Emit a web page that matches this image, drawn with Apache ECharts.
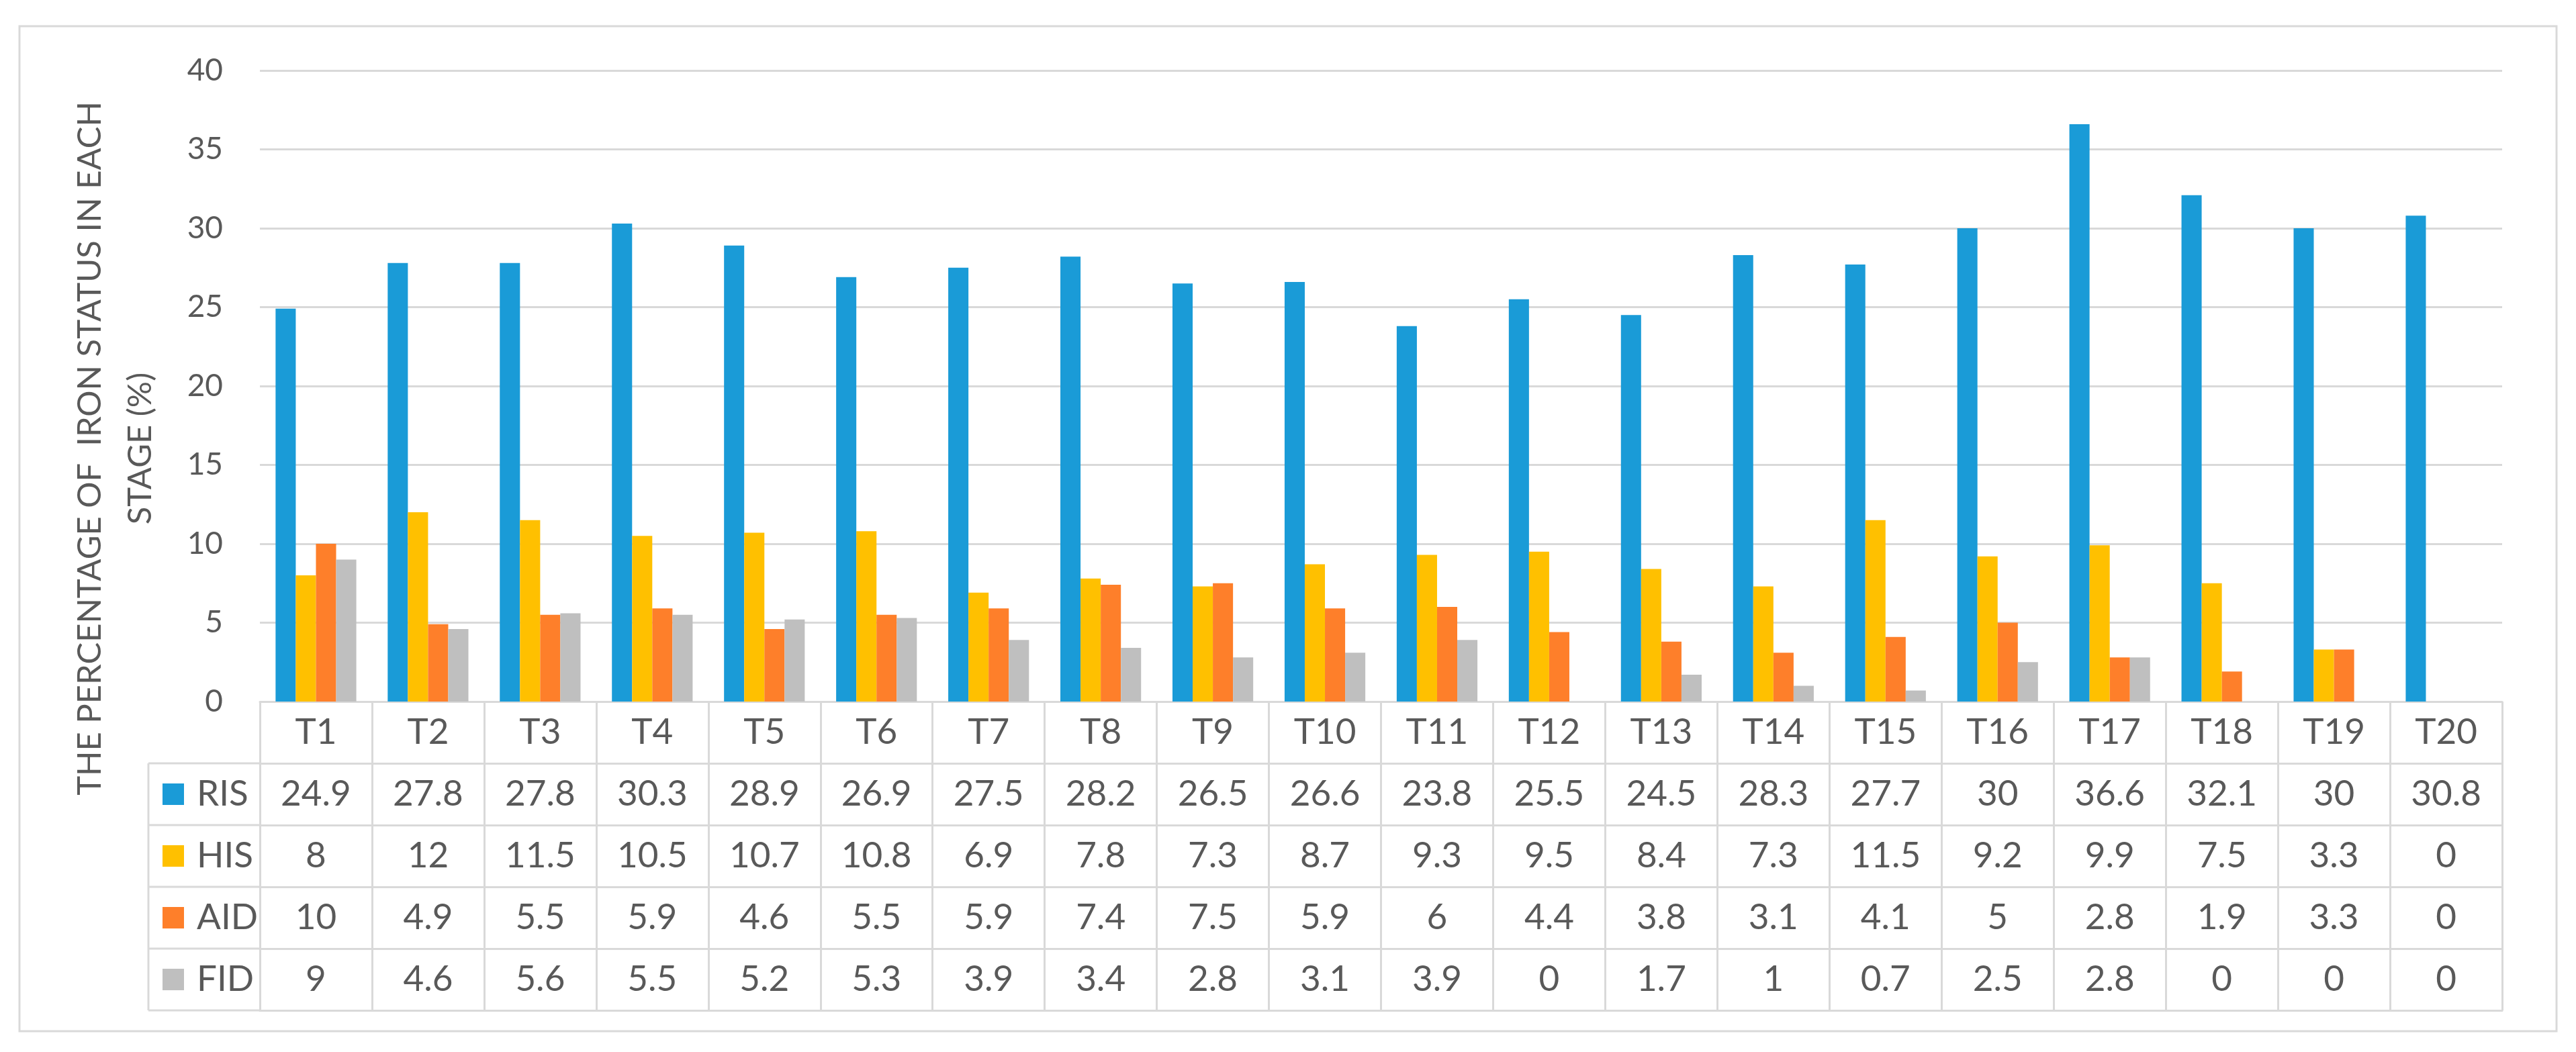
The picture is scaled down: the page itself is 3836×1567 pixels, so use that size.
<!DOCTYPE html>
<html>
<head>
<meta charset="utf-8">
<script src="https://cdn.jsdelivr.net/npm/echarts@6/dist/echarts.min.js"></script>
<style>
  html, body { margin: 0; padding: 0; background: #fff; }
  #main { width: 3836px; height: 1567px; }
</style>
</head>
<body>
<div id="main"></div>
<script>
var categories = ['T1', 'T2', 'T3', 'T4', 'T5', 'T6', 'T7', 'T8', 'T9', 'T10',
    'T11', 'T12', 'T13', 'T14', 'T15', 'T16', 'T17', 'T18', 'T19', 'T20'];
var risValues = [24.9, 27.8, 27.8, 30.3, 28.9, 26.9, 27.5, 28.2, 26.5, 26.6, 23.8, 25.5, 24.5, 28.3, 27.7, 30, 36.6, 32.1, 30, 30.8];
var hisValues = [8, 12, 11.5, 10.5, 10.7, 10.8, 6.9, 7.8, 7.3, 8.7, 9.3, 9.5, 8.4, 7.3, 11.5, 9.2, 9.9, 7.5, 3.3, 0];
var aidValues = [10, 4.9, 5.5, 5.9, 4.6, 5.5, 5.9, 7.4, 7.5, 5.9, 6, 4.4, 3.8, 3.1, 4.1, 5, 2.8, 1.9, 3.3, 0];
var fidValues = [9, 4.6, 5.6, 5.5, 5.2, 5.3, 3.9, 3.4, 2.8, 3.1, 3.9, 0, 1.7, 1, 0.7, 2.5, 2.8, 0, 0, 0];
var seriesNames = ['RIS', 'HIS', 'AID', 'FID'];
var yMin = 0, yMax = 40, yStep = 5;
var yTitleLines = ['THE PERCENTAGE OF  IRON STATUS IN EACH', 'STAGE (%)'];

var colors = ['#1a9bd7', '#ffc000', '#fe7f2a', '#bfbfbf'];
var lineColor = '#d9d9d9';
var textColor = '#595959';
var font = 'Lato';
var tableFont = 53;
var rowH = 92;

var myChart = echarts.init(document.getElementById('main'));
var seriesData = [risValues, hisValues, aidValues, fidValues];

// grid box in pixels
var gLeft = 387, gRight = 110, gTop = 105, gBottom = 522;
var gridBottomY = 1567 - gBottom;
var legendColLeft = 221;

// header axis (categories) + one axis per table row
var xAxes = [{
    type: 'category',
    data: categories,
    position: 'bottom',
    offset: 0,
    axisLine: { show: true, lineStyle: { color: lineColor, width: 3 } },
    axisTick: { show: true, interval: 0, length: rowH, lineStyle: { color: lineColor, width: 3 } },
    axisLabel: { interval: 0, margin: rowH / 2, verticalAlign: 'middle', color: textColor, fontFamily: font, fontSize: tableFont },
    splitLine: { show: false }
}];
for (var r = 0; r < seriesNames.length; r++) {
    (function (row) {
        xAxes.push({
            type: 'category',
            data: categories,
            position: 'bottom',
            offset: rowH * (row + 1),
            name: '{sq|}{sp|}' + seriesNames[row],
            nameLocation: 'start',
            nameGap: gLeft - legendColLeft - 21,
            nameTextStyle: {
                align: 'left',
                verticalAlign: 'middle',
                padding: [rowH, 0, 0, 0],
                color: textColor, fontFamily: font, fontSize: tableFont,
                rich: {
                    sq: { width: 32, height: 32, backgroundColor: colors[row] },
                    sp: { width: 19 }
                }
            },
            axisLine: { show: true, lineStyle: { color: lineColor, width: 3 } },
            axisTick: { show: true, interval: 0, length: rowH, lineStyle: { color: lineColor, width: 3 } },
            axisLabel: {
                interval: 0, margin: rowH / 2, verticalAlign: 'middle',
                color: textColor, fontFamily: font, fontSize: tableFont,
                formatter: function (v, i) { return String(seriesData[row][i]); }
            },
            splitLine: { show: false }
        });
    })(r);
}
// bottom line of the table
xAxes.push({
    type: 'category',
    data: categories,
    position: 'bottom',
    offset: rowH * (seriesNames.length + 1),
    axisLine: { show: true, lineStyle: { color: lineColor, width: 3 } },
    axisTick: { show: false },
    axisLabel: { show: false }
});

// outer frame, y title and the lines of the legend column (left of the plot)
var graphics = [{
    type: 'rect',
    shape: { x: 29, y: 39, width: 3778, height: 1497 },
    style: { fill: 'none', stroke: lineColor, lineWidth: 3 },
    silent: true
}, {
    type: 'line',
    shape: { x1: legendColLeft, y1: gridBottomY + rowH, x2: legendColLeft, y2: gridBottomY + rowH * 5 },
    style: { stroke: lineColor, lineWidth: 3 },
    silent: true
}];
var titleX = [134, 209];
for (var t = 0; t < yTitleLines.length; t++) {
    graphics.push({
        type: 'text',
        x: titleX[t],
        y: 668,
        rotation: Math.PI / 2,
        style: {
            text: yTitleLines[t],
            align: 'center',
            verticalAlign: 'middle',
            fill: textColor,
            fontFamily: font,
            fontSize: 49
        },
        silent: true
    });
}
for (var k = 1; k <= 5; k++) {
    graphics.push({
        type: 'line',
        shape: { x1: legendColLeft, y1: gridBottomY + rowH * k, x2: gLeft, y2: gridBottomY + rowH * k },
        style: { stroke: lineColor, lineWidth: 3 },
        silent: true
    });
}

var series = [];
for (var s = 0; s < seriesNames.length; s++) {
    series.push({
        name: seriesNames[s],
        type: 'bar',
        xAxisIndex: 0,
        barGap: 0,
        barCategoryGap: '28%',
        itemStyle: { color: colors[s] },
        data: seriesData[s]
    });
}

var option = {
    backgroundColor: '#ffffff',
    animation: false,
    grid: { left: gLeft, right: gRight, top: gTop, bottom: gBottom, containLabel: false },
    xAxis: xAxes,
    yAxis: {
        type: 'value',
        min: yMin,
        max: yMax,
        interval: yStep,
        axisLine: { show: false },
        axisTick: { show: false },
        axisLabel: { margin: 55, color: textColor, fontFamily: font, fontSize: 46 },
        splitLine: { show: true, lineStyle: { color: lineColor, width: 3 } }
    },
    graphic: graphics,
    series: series
};
myChart.setOption(option);
</script>
</body>
</html>
